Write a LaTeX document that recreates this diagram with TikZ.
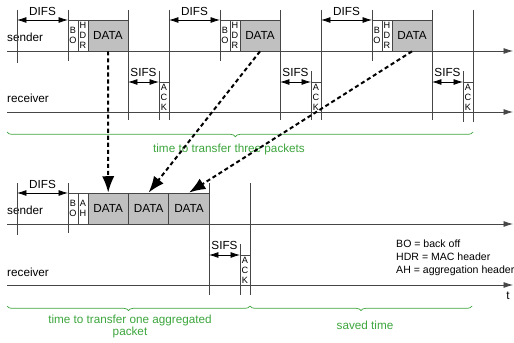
\documentclass[tikz,border=0pt]{standalone}
\usepackage{fontspec}
\setmainfont{Liberation Sans}
\usetikzlibrary{arrows.meta,decorations.pathreplacing}
\definecolor{linegray}{RGB}{70,70,70}
\definecolor{datagray}{RGB}{192,192,192}
\definecolor{bracegreen}{RGB}{60,165,60}
\tikzset{
  >={Latex[length=8pt,width=5pt]},
  timeline/.style={->, draw=linegray, line width=0.6pt},
  tickline/.style={draw=linegray, line width=0.6pt},
  ifsarrow/.style={<->, draw=black, line width=0.6pt},
  lbl/.style={font=\fontsize{10}{11}\selectfont, inner sep=0pt},
  slot/.style={draw=linegray, line width=0.6pt, minimum width=0.3cm, minimum height=0.93cm, inner sep=0pt, align=center, font=\fontsize{7.8}{8.5}\selectfont},
  ackslot/.style={slot, minimum height=0.9cm},
  dataslot/.style={slot, fill=datagray, minimum width=1.2cm, font=\fontsize{10}{11}\selectfont},
  moved/.style={-{Latex[length=14pt,width=10.5pt]}, line width=1.7pt, dash pattern=on 3.5pt off 2.5pt},
  timebrace/.style={draw=bracegreen, line width=0.6pt, decorate, decoration={brace, mirror, amplitude=4pt}},
  greenlbl/.style={lbl, text=bracegreen, align=center}
}

\begin{document}
\begin{tikzpicture}[x=0.03cm,y=-0.03cm]
  \useasboundingbox (0,0) rectangle (514,343);

  % three single packets
  \draw[timeline] (7,51) -- (513,51);
  \draw[timeline] (7,112) -- (513,112);
  \node[lbl,anchor=west] (snd1) at (7,37) {sender};
  \node[lbl,anchor=west] (rcv1) at (7,98) {receiver};

  % packet 1
  \draw[tickline] (17,10) -- (17,63);
  \draw[tickline] (68,10) -- (68,61);
  \draw[ifsarrow] (17,20) -- (68,20);
  \node[lbl] (difs1) at (42.5,11) {DIFS};
  \node[slot] (bo1) at (73,35.5) {B\\O};
  \node[slot] (hdr1) at (83,35.5) {H\\D\\R};
  \node[dataslot] (d1) at (108,35.5) {DATA};
  \draw[tickline] (128,10) -- (128,120);
  \draw[ifsarrow] (128,82) -- (159,82);
  \node[lbl] (sifs1) at (143.5,72) {SIFS};
  \draw[tickline] (159,71) -- (159,120);
  \node[ackslot] (ack1) at (164,97) {A\\C\\K};
  \draw[tickline] (169,10) -- (169,120);

  % packet 2
  \draw[tickline] (220,10) -- (220,61);
  \draw[ifsarrow] (169,20) -- (220,20);
  \node[lbl] (difs2) at (194.5,11) {DIFS};
  \node[slot] (bo2) at (225,35.5) {B\\O};
  \node[slot] (hdr2) at (235,35.5) {H\\D\\R};
  \node[dataslot] (d2) at (260,35.5) {DATA};
  \draw[tickline] (280,10) -- (280,120);
  \draw[ifsarrow] (280,82) -- (311,82);
  \node[lbl] (sifs2) at (295.5,72) {SIFS};
  \draw[tickline] (311,71) -- (311,120);
  \node[ackslot] (ack2) at (316,97) {A\\C\\K};
  \draw[tickline] (321,10) -- (321,120);

  % packet 3
  \draw[tickline] (372,10) -- (372,61);
  \draw[ifsarrow] (321,20) -- (372,20);
  \node[lbl] (difs3) at (346.5,11) {DIFS};
  \node[slot] (bo3) at (377,35.5) {B\\O};
  \node[slot] (hdr3) at (387,35.5) {H\\D\\R};
  \node[dataslot] (d3) at (412,35.5) {DATA};
  \draw[tickline] (432,10) -- (432,120);
  \draw[ifsarrow] (432,82) -- (463,82);
  \node[lbl] (sifs3) at (447.5,72) {SIFS};
  \draw[tickline] (463,71) -- (463,122);
  \node[ackslot] (ack3) at (468,97) {A\\C\\K};
  \draw[tickline] (473,10) -- (473,122);

  \draw[timebrace,decoration={aspect=0.49}] (7,132) -- (473,132);
  \node[greenlbl] (three) at (229,149) {time to transfer three packets};

  % one aggregated packet
  \draw[timeline] (7,224) -- (513,224);
  \draw[timeline] (7,285) -- (513,285);
  \node[lbl,anchor=west] (snd2) at (7,210) {sender};
  \node[lbl,anchor=west] (rcv2) at (7,272) {receiver};
  \node[lbl] (tlbl) at (508,296) {t};

  \draw[tickline] (17,183) -- (17,235);
  \draw[tickline] (68,183) -- (68,233);
  \draw[ifsarrow] (17,193) -- (68,193);
  \node[lbl] (difs4) at (42.5,184) {DIFS};
  \node[slot] (bo4) at (73,208.5) {B\\O};
  \node[slot] (ah4) at (83,208.5) {A\\H};
  \node[dataslot,minimum width=1.212cm] (b1) at (108.2,208.5) {DATA};
  \node[dataslot,minimum width=1.212cm] (b2) at (148.6,208.5) {DATA};
  \node[dataslot,minimum width=1.212cm] (b3) at (189,208.5) {DATA};
  \draw[tickline] (209,183) -- (209,295);
  \draw[ifsarrow] (209,255) -- (240,255);
  \node[lbl] (sifs4) at (224.5,245) {SIFS};
  \draw[tickline] (240,244) -- (240,295);
  \node[ackslot] (ack4) at (245,270) {A\\C\\K};
  \draw[tickline] (250,183) -- (250,295);

  \node[lbl,anchor=west,align=left,font=\fontsize{9}{11.2}\selectfont] (legend) at (396,258)
    {BO = back off\\HDR = MAC header\\AH = aggregation header};

  \draw[timebrace] (7,306) -- (250,306);
  \node[greenlbl] (one) at (130,326.5) {time to transfer one aggregated\\packet};
  \draw[timebrace] (250,306) -- (472,306);
  \node[greenlbl] (saved) at (365,325) {saved time};

  % data moved into the aggregate
  \draw[moved] (d1.south) -- (b1.north);
  \draw[moved] (d2.south) -- (b2.north);
  \draw[moved] (d3.south) -- (b3.north);
\end{tikzpicture}
\end{document}
